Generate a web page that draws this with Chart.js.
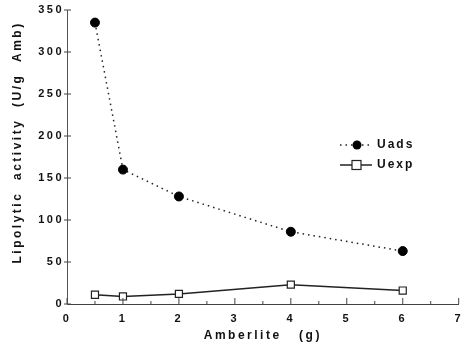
<!DOCTYPE html>
<html>
<head>
<meta charset="utf-8">
<script src="https://cdn.jsdelivr.net/npm/chart.js@4/dist/chart.umd.min.js"></script>
<style>
  html, body { margin: 0; padding: 0; background: #fff; overflow: hidden; }
  canvas { display: block; }
</style>
</head>
<body>
<canvas id="grafico" width="471" height="348"></canvas>
<script>
const amberlite = [0.5, 1, 2, 4, 6];
const uads = [335, 160, 128, 86, 63];
const uexp = [11, 9, 12, 23, 16];
const xTicks = [0, 1, 2, 3, 4, 5, 6, 7];
const yTicks = [0, 50, 100, 150, 200, 250, 300, 350];

const tinta = "#111";

function pontos(xs, ys) {
    return xs.map((x, i) => ({ x: x, y: ys[i] }));
}

// espaçamento entre letras, como no original
const espacamento = {
    id: "espacamento",
    beforeLayout(chart) { chart.ctx.letterSpacing = "2.5px"; },
    beforeDraw(chart) { chart.ctx.letterSpacing = "2.5px"; }
};

// marcas dos eixos viradas para dentro
const marcas = {
    id: "marcas",
    afterDraw(chart) {
        const ctx = chart.ctx;
        const x = chart.scales.x, y = chart.scales.y;
        const area = chart.chartArea;
        ctx.save();
        ctx.strokeStyle = "#444";
        ctx.lineWidth = 1;
        ctx.beginPath();
        for (let v = 0; v <= 7; v += 0.5) {
            const px = x.getPixelForValue(v);
            const len = Number.isInteger(v) ? 6 : 3;
            ctx.moveTo(px, area.bottom);
            ctx.lineTo(px, area.bottom - len);
        }
        yTicks.forEach(v => {
            const py = y.getPixelForValue(v);
            ctx.moveTo(area.left - 3, py);
            ctx.lineTo(area.left + 4, py);
        });
        ctx.stroke();
        ctx.restore();
    }
};

// legenda desenhada dentro da área
const legenda = {
    id: "legenda",
    afterDraw(chart) {
        const ctx = chart.ctx;
        const linhas = [{ ds: 0, y: 145 }, { ds: 1, y: 165 }];
        ctx.save();
        ctx.letterSpacing = "2px";
        ctx.font = "bold 12px 'Liberation Sans', Arial, sans-serif";
        ctx.textBaseline = "middle";
        ctx.fillStyle = tinta;
        linhas.forEach(l => {
            const ds = chart.data.datasets[l.ds];
            ctx.strokeStyle = ds.borderColor;
            ctx.lineWidth = ds.borderWidth;
            ctx.setLineDash(ds.borderDash || []);
            ctx.beginPath();
            ctx.moveTo(340, l.y);
            ctx.lineTo(372, l.y);
            ctx.stroke();
            ctx.setLineDash([]);
            ctx.lineWidth = 1.2;
            if (ds.pointStyle === "rect") {
                ctx.fillStyle = "#fff";
                ctx.fillRect(352, l.y - 4.5, 9, 9);
                ctx.strokeRect(352, l.y - 4.5, 9, 9);
            } else {
                ctx.fillStyle = ds.pointBackgroundColor;
                ctx.beginPath();
                ctx.arc(357, l.y, 4.5, 0, Math.PI * 2);
                ctx.fill();
            }
            ctx.fillStyle = tinta;
            ctx.fillText(ds.label, 377, l.y);
        });
        ctx.restore();
    }
};

const fonteEixo = { family: "'Liberation Sans', Arial, sans-serif", size: 11, weight: "bold" };
const fonteTitulo = { family: "'Liberation Sans', Arial, sans-serif", size: 12, weight: "bold" };

new Chart(document.getElementById("grafico"), {
    type: "line",
    data: {
        datasets: [
            {
                label: "Uads",
                data: pontos(amberlite, uads),
                borderColor: "#222",
                borderWidth: 1.5,
                borderDash: [1.5, 4],
                pointStyle: "circle",
                pointRadius: 4.5,
                pointBackgroundColor: "#000",
                pointBorderColor: "#000",
                pointBorderWidth: 1,
                tension: 0
            },
            {
                label: "Uexp",
                data: pontos(amberlite, uexp),
                borderColor: "#222",
                borderWidth: 1.5,
                pointStyle: "rect",
                pointRadius: 5,
                pointBackgroundColor: "#fff",
                pointBorderColor: "#222",
                pointBorderWidth: 1.2,
                tension: 0
            }
        ]
    },
    options: {
        responsive: false,
        animation: false,
        layout: { autoPadding: false, padding: { top: 10, right: 4, left: 0, bottom: 0 } },
        plugins: {
            legend: { display: false },
            tooltip: { enabled: false }
        },
        scales: {
            x: {
                type: "linear",
                min: 0,
                max: 7,
                afterBuildTicks: s => { s.ticks = xTicks.map(v => ({ value: v })); },
                afterFit: s => { s.height = 44; },
                grid: { display: false, drawTicks: false },
                border: { color: "#444", width: 1 },
                ticks: { color: tinta, font: fonteEixo, padding: 8 },
                title: { display: true, text: "Amberlite   (g)", color: tinta, font: fonteTitulo, padding: { top: 0, bottom: 5 } }
            },
            y: {
                min: 0,
                max: 350,
                afterBuildTicks: s => { s.ticks = yTicks.map(v => ({ value: v })); },
                afterFit: s => { s.width = 67; },
                grid: { display: false, drawTicks: false },
                border: { color: "#555", width: 1 },
                ticks: { color: tinta, font: fonteEixo, padding: 3 },
                title: { display: true, text: "     Lipolytic  activity  (U/g  Amb)", color: tinta, font: fonteTitulo, padding: { top: 10, bottom: 0 } }
            }
        }
    },
    plugins: [espacamento, marcas, legenda]
});
</script>
</body>
</html>
